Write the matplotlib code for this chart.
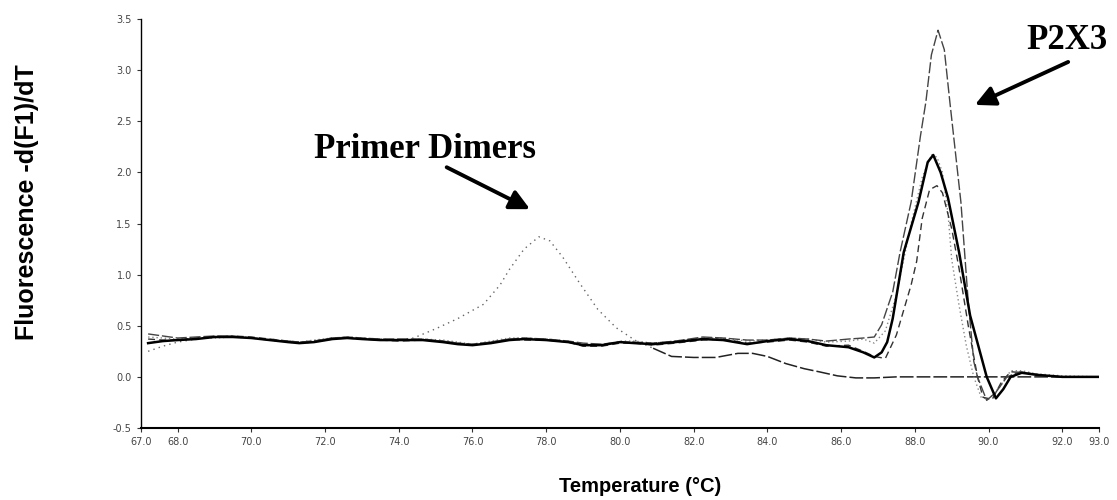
import matplotlib
matplotlib.use("Agg")
import matplotlib.pyplot as plt

# ---------------- data ----------------
base_T = [67.2, 67.6, 68.0, 68.5, 69.0, 69.5, 70.0, 70.5, 71.0, 71.3, 71.7, 72.2, 72.6,
          73.0, 73.5, 74.0, 74.65, 75.2, 75.6, 76.0, 76.5, 77.0, 77.4, 78.0, 78.6, 79.0,
          79.5, 80.0, 80.4, 80.9, 81.5, 82.25, 82.8, 83.45, 84.0, 84.6, 85.1, 85.6, 86.2]

# tall P2X3 curve
a_T = base_T + [86.6, 86.9, 87.1, 87.4, 87.6, 87.9, 88.15, 88.3, 88.45, 88.63, 88.8, 88.95,
                89.1, 89.25, 89.45, 89.6, 89.7, 89.95, 90.2, 90.5, 90.85, 91.2, 91.6, 92.0,
                92.5, 93.0]
a_y = [0.42, 0.40, 0.38, 0.39, 0.40, 0.40, 0.38, 0.36, 0.35, 0.34, 0.35, 0.38, 0.39,
       0.38, 0.37, 0.37, 0.37, 0.35, 0.33, 0.32, 0.34, 0.37, 0.38, 0.37, 0.35, 0.33,
       0.32, 0.34, 0.34, 0.33, 0.35, 0.39, 0.38, 0.36, 0.36, 0.38, 0.37, 0.35, 0.37,
       0.38, 0.39, 0.51, 0.83, 1.22, 1.71, 2.35, 2.69, 3.15, 3.39, 3.20, 2.69,
       2.20, 1.71, 0.73, 0.15, 0.00, -0.23, -0.15, 0.00, 0.05, 0.03, 0.01, 0.00,
       0.00, 0.00]

# solid black P2X3 curve
b_T = base_T + [86.6, 86.9, 87.1, 87.25, 87.4, 87.7, 88.1, 88.35, 88.5, 88.7, 88.9, 89.2,
                89.5, 89.95, 90.2, 90.4, 90.6, 90.9, 91.3, 92.0, 93.0]
b_y = [0.33, 0.35, 0.36, 0.37, 0.39, 0.39, 0.38, 0.36, 0.34, 0.33, 0.34, 0.37, 0.38,
       0.37, 0.36, 0.36, 0.36, 0.34, 0.32, 0.31, 0.33, 0.36, 0.37, 0.36, 0.34, 0.31,
       0.31, 0.34, 0.33, 0.32, 0.34, 0.37, 0.36, 0.32, 0.35, 0.37, 0.35, 0.31, 0.29,
       0.24, 0.19, 0.24, 0.34, 0.57, 1.22, 1.71, 2.10, 2.17, 2.00, 1.75, 1.22,
       0.60, 0.00, -0.21, -0.12, 0.00, 0.04, 0.02, 0.00, 0.00]

# dashed P2X3 curve (lowest peak)
c_T = base_T + [86.6, 86.9, 87.2, 87.5, 87.9, 88.05, 88.2, 88.4, 88.6, 88.75, 89.0, 89.2,
                89.45, 89.7, 89.85, 90.1, 90.35, 90.6, 91.0, 91.5, 92.0, 93.0]
c_y = [0.37, 0.36, 0.36, 0.38, 0.39, 0.40, 0.39, 0.37, 0.35, 0.34, 0.35, 0.38, 0.38,
       0.37, 0.36, 0.35, 0.36, 0.35, 0.33, 0.31, 0.34, 0.37, 0.36, 0.36, 0.34, 0.30,
       0.30, 0.33, 0.33, 0.31, 0.33, 0.36, 0.37, 0.33, 0.34, 0.36, 0.34, 0.30, 0.31,
       0.25, 0.20, 0.18, 0.41, 0.90, 1.13, 1.55, 1.83, 1.87, 1.80, 1.45, 1.06,
       0.50, 0.00, -0.20, -0.22, -0.05, 0.05, 0.04, 0.01, 0.00, 0.00]

# dotted P2X3 curve
d_T = base_T + [86.6, 86.9, 87.2, 87.5, 87.9, 88.2, 88.45, 88.6, 88.75, 88.9, 89.0, 89.2,
                89.4, 89.6, 89.8, 90.0, 90.3, 90.6, 90.9, 91.3, 92.0, 93.0]
d_y = [0.39, 0.38, 0.37, 0.38, 0.38, 0.39, 0.38, 0.37, 0.35, 0.34, 0.36, 0.38, 0.39,
       0.38, 0.37, 0.36, 0.37, 0.36, 0.34, 0.32, 0.35, 0.38, 0.38, 0.37, 0.35, 0.32,
       0.31, 0.35, 0.35, 0.33, 0.35, 0.38, 0.38, 0.35, 0.36, 0.38, 0.37, 0.34, 0.35,
       0.37, 0.33, 0.45, 0.80, 1.50, 1.95, 2.17, 2.15, 2.00, 1.60, 1.15, 0.70,
       0.30, 0.00, -0.20, -0.22, -0.10, 0.06, 0.06, 0.03, 0.01, 0.00]

# no-template sample: primer-dimer part (faint dotted) ...
pd_T = [67.2, 67.6, 68.0, 68.5, 69.0, 69.5, 70.0, 70.5, 71.0, 71.3, 71.7, 72.2, 72.6, 73.0,
        73.5, 74.0, 74.4, 75.0, 75.6, 76.3, 76.75, 77.0, 77.4, 77.8, 78.1, 78.45, 78.9,
        79.4, 79.9, 80.4, 80.9]
pd_y = [0.25, 0.30, 0.34, 0.37, 0.39, 0.39, 0.38, 0.36, 0.34, 0.33, 0.34, 0.37, 0.38, 0.37,
        0.36, 0.36, 0.38, 0.47, 0.57, 0.71, 0.90, 1.05, 1.25, 1.37, 1.33, 1.17, 0.92,
        0.66, 0.48, 0.36, 0.28]
# ... and its flat tail
nt_T = [80.9, 81.4, 82.0, 82.6, 83.2, 83.6, 84.0, 84.5, 85.0, 85.4, 85.9, 86.4, 86.9,
        87.5, 88.5, 89.5, 90.5, 91.5, 93.0]
nt_y = [0.28, 0.20, 0.19, 0.19, 0.23, 0.23, 0.20, 0.13, 0.08, 0.05, 0.01, -0.01, -0.01,
        0.00, 0.00, 0.00, 0.00, 0.00, 0.00]

x_ticks = [67.0, 68.0, 70.0, 72.0, 74.0, 76.0, 78.0, 80.0, 82.0, 84.0, 86.0, 88.0, 90.0, 92.0, 93.0]
y_ticks = [-0.5, 0.0, 0.5, 1.0, 1.5, 2.0, 2.5, 3.0, 3.5]

# ---------------- figure ----------------
fig = plt.figure(figsize=(11.17, 5.0), dpi=100)
ax = fig.add_axes([0.126, 0.144, 0.858, 0.818])

ax.plot(pd_T, pd_y, color="#666666", lw=1.0, ls=(0, (1, 3)))
ax.plot(nt_T, nt_y, color="#222222", lw=1.1, ls=(0, (9, 2)))
ax.plot(d_T, d_y, color="#888888", lw=1.0, ls=(0, (1, 2)))
ax.plot(c_T, c_y, color="#333333", lw=1.0, ls=(0, (5, 3)))
ax.plot(a_T, a_y, color="#444444", lw=1.0, ls=(0, (8, 2)))
ax.plot(b_T, b_y, color="black", lw=1.8)

ax.set_xlim(67.0, 93.0)
ax.set_ylim(-0.5, 3.5)
ax.set_xticks(x_ticks)
ax.set_xticklabels([f"{t:.1f}" for t in x_ticks])
ax.set_yticks(y_ticks)
ax.set_yticklabels([f"{t:.1f}" for t in y_ticks])
ax.tick_params(axis="both", labelsize=7, length=3, width=0.8, colors="#333333",
               labelcolor="#444444")

for s in ("top", "right"):
    ax.spines[s].set_visible(False)
ax.spines["left"].set_linewidth(1.0)
ax.spines["bottom"].set_linewidth(1.5)

ax.set_ylabel("Fluorescence -d(F1)/dT", family="Liberation Sans", fontweight="bold",
              fontsize=18)
ax.yaxis.set_label_coords(-0.106, 0.553)
ax.set_xlabel("Temperature (\u00b0C)", family="Liberation Sans", fontweight="bold",
              fontsize=14.5)
ax.xaxis.set_label_coords(0.521, -0.12)

ax.annotate("", xy=(77.56, 1.64), xytext=(75.3, 2.05),
            arrowprops=dict(arrowstyle="-|>", color="black", lw=2.8,
                            mutation_scale=30, shrinkA=0, shrinkB=0))
ax.text(74.7, 2.22, "Primer Dimers", family="Liberation Serif", fontweight="bold",
        fontsize=25, ha="center", va="center")

ax.annotate("", xy=(89.63, 2.66), xytext=(92.16, 3.08),
            arrowprops=dict(arrowstyle="-|>", color="black", lw=2.8,
                            mutation_scale=30, shrinkA=0, shrinkB=0))
ax.text(92.13, 3.29, "P2X3", family="Liberation Serif", fontweight="bold",
        fontsize=25, ha="center", va="center")

fig.savefig("out.png", dpi=100)
